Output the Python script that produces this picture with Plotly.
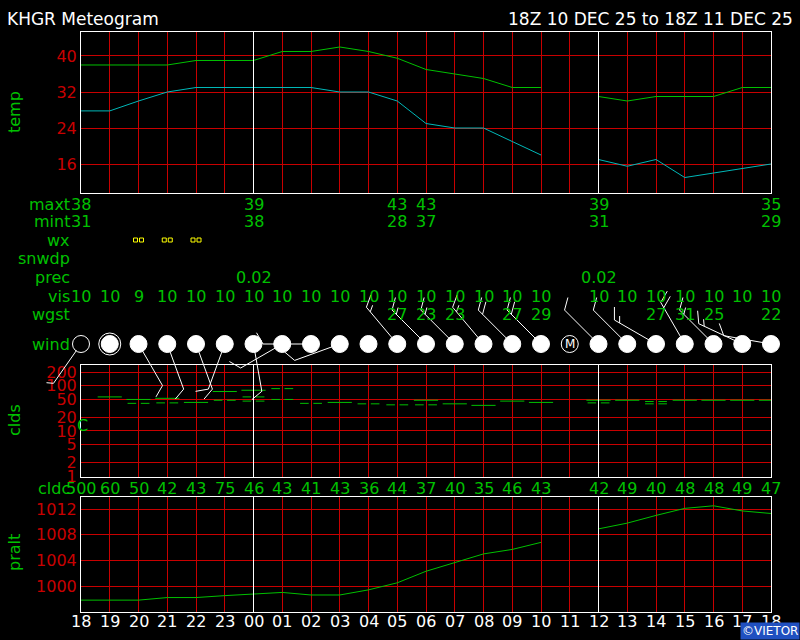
import math
import plotly.graph_objects as go

W, H = 800, 640
GREEN = "#00c000"
RED = "#c80000"
CYAN = "#00b8b8"
FONT = "DejaVu Sans"

hours = ["18","19","20","21","22","23","00","01","02","03","04","05","06","07","08","09","10","11","12","13","14","15","16","17","18"]
idx = list(range(len(hours)))

temp = [38,38,38,38,39,39,39,41,41,42,41,39.5,37,36,35,33,33,None,31,30,31,31,31,33,33]
dwpt = [27.8,27.8,30,32,33,33,33,33,33,32,32,30,25,24,24,21,18,None,17,15.5,17,13,14,15,16]
maxt = {0:"38",6:"39",11:"43",12:"43",18:"39",24:"35"}
mint = {0:"31",6:"38",11:"28",12:"37",18:"31",24:"29"}
wx = [2,3,4]
prec = {6:"0.02",18:"0.02"}
vis = ["10","10","9","10","10","10","10","10","10","10","10","10","10","10","10","10","10","","10","10","10","10","10","10","10"]
wgst = {11:"27",12:"23",13:"23",15:"27",16:"29",20:"27",21:"31",22:"25",24:"22"}
wdir = [215,None,150,160,160,200,170,240,270,250,None,320,315,315,320,315,315,None,315,315,300,330,315,295,280]
wspd = [5,0,10,10,10,10,10,10,10,10,0,15,15,15,15,20,20,None,10,10,15,20,15,15,10]
sky = ["clr","calm"] + ["ovc"]*15 + ["M"] + ["ovc"]*7
cld_solid = [None,57,50,53,43,75,80,None,None,43,None,None,48,40,37,46,43,None,48,48,None,48,48,48,48]
cld_pair = [None,None,41,42,None,48,57,50,41,None,40,38,38,None,None,None,None,None,42,None,45,None,None,None,None]
cld_pair2 = [None,None,None,None,None,None,46,87,None,None,None,None,None,None,None,None,None,None,None,None,40,None,None,None,None]
cldc = ["500","60","50","42","43","75","46","43","41","43","36","44","37","40","35","46","43","","42","49","40","48","48","49","47"]
pralt = [997.8,997.8,997.8,998.2,998.2,998.5,998.8,999.0,998.6,998.6,999.4,1000.5,1002.3,1003.7,1005.0,1005.7,1006.8,None,1008.9,1009.8,1011.0,1012.1,1012.5,1011.7,1011.3]

X0, X1 = 81, 771
def px(i):
    return X0 + (X1 - X0) * i / 24.0
def dom(top, bot):
    return [(H - bot) / H, (H - top) / H]

fig = go.Figure()
fig.add_trace(go.Scatter(x=idx, y=temp, mode="lines", line=dict(color=GREEN, width=1), xaxis="x", yaxis="y", connectgaps=False))
fig.add_trace(go.Scatter(x=idx, y=dwpt, mode="lines", line=dict(color=CYAN, width=1), xaxis="x", yaxis="y", connectgaps=False))
def dashes(vals, half, gap=False):
    xs, ys = [], []
    for i, v in enumerate(vals):
        if v is None:
            continue
        if gap:
            xs += [i-0.38, i-0.08, None, i+0.08, i+0.38, None]
            ys += [v, v, None, v, v, None]
        else:
            xs += [i-half, i+half, None]
            ys += [v, v, None]
    return xs, ys
for vals, g in [(cld_solid, False), (cld_pair, True), (cld_pair2, True)]:
    xs, ys = dashes(vals, 0.42, g)
    fig.add_trace(go.Scatter(x=xs, y=ys, mode="lines", line=dict(color=GREEN, width=1), xaxis="x2", yaxis="y2"))
fig.add_trace(go.Scatter(x=idx, y=pralt, mode="lines", line=dict(color=GREEN, width=1), xaxis="x3", yaxis="y3"))

WY = 344
bx, by = [], []
for i, (d, s) in enumerate(zip(wdir, wspd)):
    if d is None or not s:
        continue
    cx = px(i)
    L = 48
    r = math.radians(d)
    ex, ey = cx + L*math.sin(r), WY - L*math.cos(r)
    bx += [cx + 8*math.sin(r), ex, None]; by += [WY - 8*math.cos(r), ey, None]
    rb = math.radians(d + 60)
    n_full, half = divmod(s, 10)
    k = 0
    for j in range(n_full):
        sx, sy = ex - 6*k*math.sin(r), ey + 6*k*math.cos(r)
        bx += [sx, sx + 13*math.sin(rb), None]; by += [sy, sy - 13*math.cos(rb), None]
        k += 1
    if half:
        sx, sy = ex - 6*k*math.sin(r), ey + 6*k*math.cos(r)
        bx += [sx, sx + 7*math.sin(rb), None]; by += [sy, sy - 7*math.cos(rb), None]
fig.add_trace(go.Scatter(x=bx, y=by, mode="lines", line=dict(color="white", width=1), xaxis="x4", yaxis="y4"))
sym = {"clr": "circle-open", "calm": "circle", "ovc": "circle", "M": "circle-open"}
fig.add_trace(go.Scatter(x=[px(i) for i in idx], y=[WY]*len(idx), mode="markers",
                         marker=dict(symbol=[sym[s] for s in sky], size=17, color="white", line=dict(color="white", width=1)),
                         xaxis="x4", yaxis="y4"))
fig.add_trace(go.Scatter(x=[px(1)], y=[WY], mode="markers", marker=dict(symbol="circle-open", size=22, color="white", line=dict(width=1)), xaxis="x4", yaxis="y4"))
wxx = []
for i in wx:
    wxx += [px(i) - 3, px(i) + 3]
fig.add_trace(go.Scatter(x=wxx, y=[240]*len(wxx), mode="markers",
                         marker=dict(symbol="square-open", size=4, color="yellow"), xaxis="x4", yaxis="y4"))

xd = [X0/W, X1/W]
axcommon = dict(range=[0, 24], showgrid=True, gridcolor=RED, gridwidth=1, dtick=1, tick0=0, zeroline=False,
                showline=True, linecolor="white", mirror=True, showticklabels=False, ticks="", domain=xd, automargin=False)
yfont = dict(color=RED, family=FONT, size=16)
ycommon = dict(gridcolor=RED, tickfont=yfont, showline=True, linecolor="white", mirror=True, zeroline=False,
               ticks="", automargin=False)
fig.update_layout(
    width=W, height=H, margin=dict(l=0, r=0, t=0, b=0, autoexpand=False), paper_bgcolor="black", plot_bgcolor="rgba(0,0,0,0)",
    showlegend=False, font=dict(family=FONT, color=GREEN, size=16),
    xaxis=dict(**axcommon, anchor="y"),
    yaxis=dict(**ycommon, domain=dom(32, 193), range=[9.56, 45.33], tickvals=[16,24,32,40], anchor="x"),
    xaxis2=dict(**axcommon, anchor="y2"),
    yaxis2=dict(**ycommon, domain=dom(365, 477), type="log", range=[-0.02, 2.463], tickvals=[1,2,5,10,20,50,100,200],
                ticktext=["1","2","5","10","20","50","100","200"], anchor="x2"),
    xaxis3=dict(**axcommon, anchor="y3"),
    yaxis3=dict(**ycommon, domain=dom(497, 612), range=[995.95, 1013.87], tickvals=[1000,1004,1008,1012], anchor="x3"),
    xaxis4=dict(domain=[0, 1], range=[0, W], visible=False, anchor="y4", automargin=False),
    yaxis4=dict(domain=[0, 1], range=[H, 0], visible=False, anchor="x4", automargin=False),
)
for ax, ay, lo, hi in [("x", "y", 9.56, 45.33), ("x3", "y3", 995.95, 1013.87), ("x2", "y2", 0.955, 290)]:
    for h in ("00", "12"):
        i = hours.index(h)
        fig.add_shape(type="line", xref=ax, yref=ay, x0=i, x1=i, y0=lo, y1=hi, line=dict(color="white", width=1))

def txt(x, y, s, color=GREEN, anchor="center", size=16, angle=0):
    fig.add_annotation(x=x, y=y, xref="x4", yref="y4", text=s, showarrow=False, xanchor=anchor, yanchor="middle",
                       font=dict(color=color, size=size, family=FONT), textangle=angle)

txt(5, 19, "KHGR Meteogram", "white", "left", 17)
txt(795, 19, "18Z 10 DEC 25 to 18Z 11 DEC 25", "white", "right", 17)
txt(14, 112, "temp", angle=-90)
txt(14, 420, "clds", angle=-90)
txt(14, 553, "pralt", angle=-90)
rows = [("maxt", 204), ("mint", 221), ("wx", 240), ("snwdp", 258), ("prec", 277), ("vis", 296), ("wgst", 314), ("wind", 344), ("cldc", 488)]
for name, y in rows:
    txt(72, y, name, anchor="right")
for i, v in maxt.items():
    txt(px(i), 204, v)
for i, v in mint.items():
    txt(px(i), 221, v)
for i, v in prec.items():
    txt(px(i), 277, v)
for i, v in enumerate(vis):
    if v:
        txt(px(i), 296, v)
for i, v in wgst.items():
    txt(px(i), 314, v)
for i, v in enumerate(cldc):
    if v:
        txt(px(i), 488, v)
for i, h in enumerate(hours):
    txt(px(i), 621, h, "white")
for i, s in enumerate(sky):
    if s == "M":
        txt(px(i), WY, "M", "white", size=12)
txt(px(0) + 1, 425, "C")
fig.add_annotation(x=800, y=640, xref="x4", yref="y4", text="©VIETOR", showarrow=False, xanchor="right", yanchor="bottom",
                   font=dict(color="white", size=12, family=FONT), bgcolor="#2050c0")

fig.write_html("out.html", config={"displayModeBar": False},
               post_script="document.body.style.margin='0';document.body.style.overflow='hidden';document.body.style.background='black';")
